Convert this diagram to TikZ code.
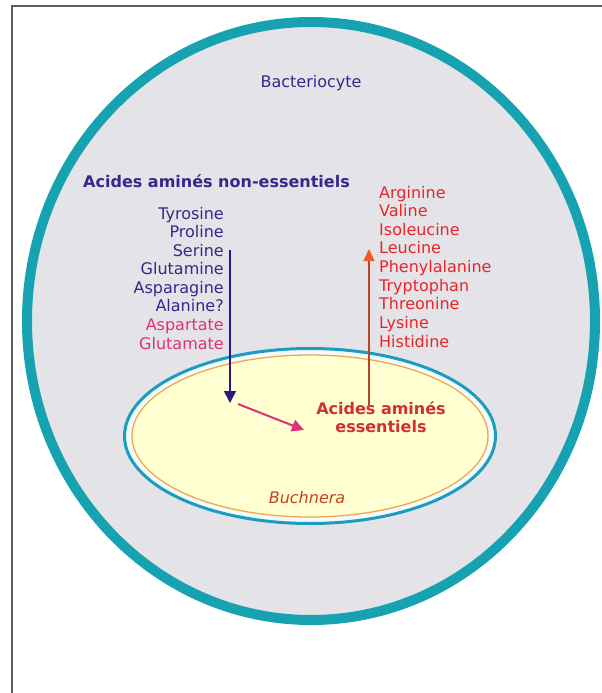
\documentclass[tikz,border=0pt]{standalone}
\usepackage{fontspec}
\setmainfont{DejaVu Sans}
\usetikzlibrary{arrows.meta}
\definecolor{frameC}{HTML}{606060}
\definecolor{tealC}{HTML}{17A2B2}
\definecolor{cellC}{HTML}{E4E4E8}
\definecolor{ringC}{HTML}{1E9CC0}
\definecolor{gapC}{HTML}{F2FAFA}
\definecolor{orangeC}{HTML}{F0A850}
\definecolor{yellowC}{HTML}{FFFFD2}
\definecolor{navyC}{HTML}{35288A}
\definecolor{indigoC}{HTML}{2A1A80}
\definecolor{pinkC}{HTML}{E0307A}
\definecolor{redC}{HTML}{E8252A}
\definecolor{darkredC}{HTML}{D03030}
\definecolor{buchC}{HTML}{C84020}
\definecolor{brownC}{HTML}{B8452A}
\definecolor{arrowRedC}{HTML}{F05A28}
\tikzset{
  lbl/.style={inner sep=0pt, font=\fontsize{16}{18.6}\selectfont},
  bigtip/.style={-{Triangle[length=12pt,width=12pt]}}
}
\begin{document}
\begin{tikzpicture}[x=1pt,y=-1pt]
\useasboundingbox (0,0) rectangle (602,693);
% frame
\draw[frameC, line width=2pt] (12,693) -- (12,6) -- (602,6);
% bacteriocyte
\draw[tealC, fill=cellC, line width=10pt] (311,321) ellipse [x radius=284, y radius=299];
% Buchnera
\draw[ringC, fill=gapC, line width=3pt] (310,436) ellipse [x radius=185.5, y radius=87.5];
\draw[orangeC, fill=yellowC, line width=1.3pt] (310,436) ellipse [x radius=178, y radius=81];

\node[lbl, text=navyC, anchor=base] (bact) at (311,88) {Bacteriocyte};
\node[lbl, text=navyC, anchor=base west, font=\fontsize{16}{18.6}\selectfont\bfseries] (nehead) at (83,187) {Acides aminés non-essentiels};

% non-essential list
\node[lbl, text=navyC, anchor=base east] (ne1) at (224,219) {Tyrosine};
\node[lbl, text=navyC, anchor=base east] (ne2) at (224,237.6) {Proline};
\node[lbl, text=navyC, anchor=base east] (ne3) at (224,256.1) {Serine};
\node[lbl, text=navyC, anchor=base east] (ne4) at (224,274.7) {Glutamine};
\node[lbl, text=navyC, anchor=base east] (ne5) at (224,293.3) {Asparagine};
\node[lbl, text=navyC, anchor=base east] (ne6) at (224,311.9) {Alanine?};
\node[lbl, text=pinkC, anchor=base east] (ne7) at (224,330.4) {Aspartate};
\node[lbl, text=pinkC, anchor=base east] (ne8) at (224,349) {Glutamate};

% essential list
\node[lbl, text=redC, anchor=base west] (e1) at (379,198) {Arginine};
\node[lbl, text=redC, anchor=base west] (e2) at (379,216.6) {Valine};
\node[lbl, text=redC, anchor=base west] (e3) at (379,235.2) {Isoleucine};
\node[lbl, text=redC, anchor=base west] (e4) at (379,253.9) {Leucine};
\node[lbl, text=redC, anchor=base west] (e5) at (379,272.5) {Phenylalanine};
\node[lbl, text=redC, anchor=base west] (e6) at (379,291.1) {Tryptophan};
\node[lbl, text=redC, anchor=base west] (e7) at (379,309.8) {Threonine};
\node[lbl, text=redC, anchor=base west] (e8) at (379,328.4) {Lysine};
\node[lbl, text=redC, anchor=base west] (e9) at (379,347) {Histidine};

% essential label
\node[lbl, text=darkredC, anchor=base, align=center, font=\fontsize{16}{18}\selectfont\bfseries] (ess) at (381,432) {Acides aminés\\essentiels};
\node[lbl, text=buchC, anchor=base, font=\fontsize{16}{18.6}\selectfont\itshape] (buch) at (307,503) {Buchnera};

% connectors
\coordinate (bStart) at (230,250);
\coordinate (bEnd) at (230,403);
\coordinate (pStart) at (238,404);
\coordinate (pEnd) at (304,430);
\coordinate (rStart) at (369,405);
\coordinate (rEnd) at (369,249);
\draw[indigoC, line width=1.5pt, bigtip] (bStart) -- (bEnd);
\draw[pinkC, line width=2pt, bigtip] (pStart) -- (pEnd);
\draw[brownC, line width=1.5pt, -{Triangle[length=12pt,width=11pt,color=arrowRedC]}] (rStart) -- (rEnd);
\end{tikzpicture}
\end{document}
